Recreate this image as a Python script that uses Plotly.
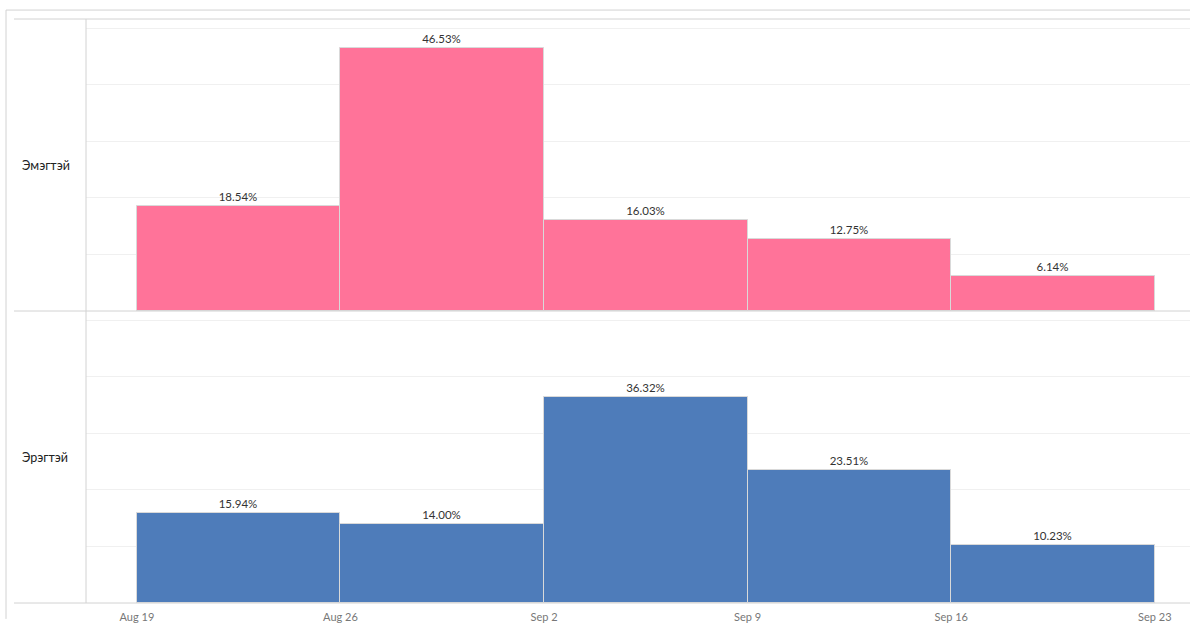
import plotly.graph_objects as go
from plotly.subplots import make_subplots

#------------------------------------------------------------------------------
# Data
weeks       = ["2019-08-19", "2019-08-26", "2019-09-02", "2019-09-09", "2019-09-16"]
female_pct  = [18.54, 46.53, 16.03, 12.75, 6.14]
male_pct    = [15.94, 14.00, 36.32, 23.51, 10.23]
row_labels  = ["Эмэгтэй", "Эрэгтэй"]
tick_vals   = ["2019-08-19", "2019-08-26", "2019-09-02", "2019-09-09", "2019-09-16", "2019-09-23"]
tick_text   = ["Aug 19", "Aug 26", "Sep 2", "Sep 9", "Sep 16", "Sep 23"]

#------------------------------------------------------------------------------
week_ms = 7 * 24 * 3600 * 1000
colors  = ["#ff7399", "#4e7cba"]
line_c  = "#d2d2d2"

fig = make_subplots(rows = 2, cols = 1, shared_xaxes = True, vertical_spacing = 0)

for i, vals in enumerate([female_pct, male_pct]):
    fig.add_trace(go.Bar(x = weeks,
                         y = vals,
                         width = [week_ms] * len(weeks),
                         offset = 0,
                         marker = dict(color = colors[i], line = dict(color = "#d9d9d9", width = 1)),
                         text = [f"{v:.2f}%" for v in vals],
                         textposition = "outside",
                         textfont = dict(size = 11.5, color = "#333333", family = "Lato"),
                         cliponaxis = False,
                         showlegend = False,
                         hoverinfo = "skip"),
                  row = i + 1, col = 1)

    fig.add_annotation(text = row_labels[i],
                       xref = "paper", yref = "paper",
                       x = -0.0598, y = 0.75 - 0.5 * i,
                       xanchor = "left", yanchor = "middle",
                       showarrow = False,
                       font = dict(size = 12.5, color = "#222222", family = "Lato"))

# Axes
fig.update_yaxes(range = [0, 51.6], dtick = 10, tick0 = 0,
                 showgrid = True, gridcolor = "#f0f0f0", gridwidth = 1,
                 showticklabels = False, zeroline = False, showline = False)
fig.update_xaxes(type = "date",
                 range = ["2019-08-17 06:00", "2019-09-24 05:00"],
                 showgrid = False, zeroline = False, showline = False)
fig.update_xaxes(tickvals = tick_vals, ticktext = tick_text,
                 ticks = "", ticklabelstandoff = 6,
                 tickfont = dict(size = 11, color = "#777777", family = "Lato"),
                 row = 2, col = 1)

# Frame lines (pane borders)
px_x = lambda p: (p - 86) / 1104
px_y = lambda p: (607 - p) / 588
shapes = [
    dict(x0 = px_x(6),  x1 = 1.0,        y0 = px_y(10),  y1 = px_y(10)),
    dict(x0 = px_x(6),  x1 = px_x(6),    y0 = px_y(10),  y1 = px_y(623)),
    dict(x0 = px_x(14), x1 = 1.0,        y0 = 1.0,       y1 = 1.0),
    dict(x0 = px_x(14), x1 = 1.0,        y0 = 0.5,       y1 = 0.5),
    dict(x0 = px_x(14), x1 = 1.0,        y0 = 0.0,       y1 = 0.0),
    dict(x0 = 0.0,      x1 = 0.0,        y0 = 0.0,       y1 = 1.0),
]
for s in shapes:
    fig.add_shape(type = "line", xref = "paper", yref = "paper",
                  line = dict(color = line_c, width = 1), layer = "above", **s)

fig.update_layout(width = 1190, height = 623,
                  margin = dict(l = 86, r = 0, t = 19, b = 16),
                  plot_bgcolor = "white", paper_bgcolor = "white",
                  bargap = 0)

# Remove the default page margin so the figure sits at the window corner
fig.write_html("out.html",
               config = {"displayModeBar": False},
               post_script = "document.body.style.margin = '0';")
